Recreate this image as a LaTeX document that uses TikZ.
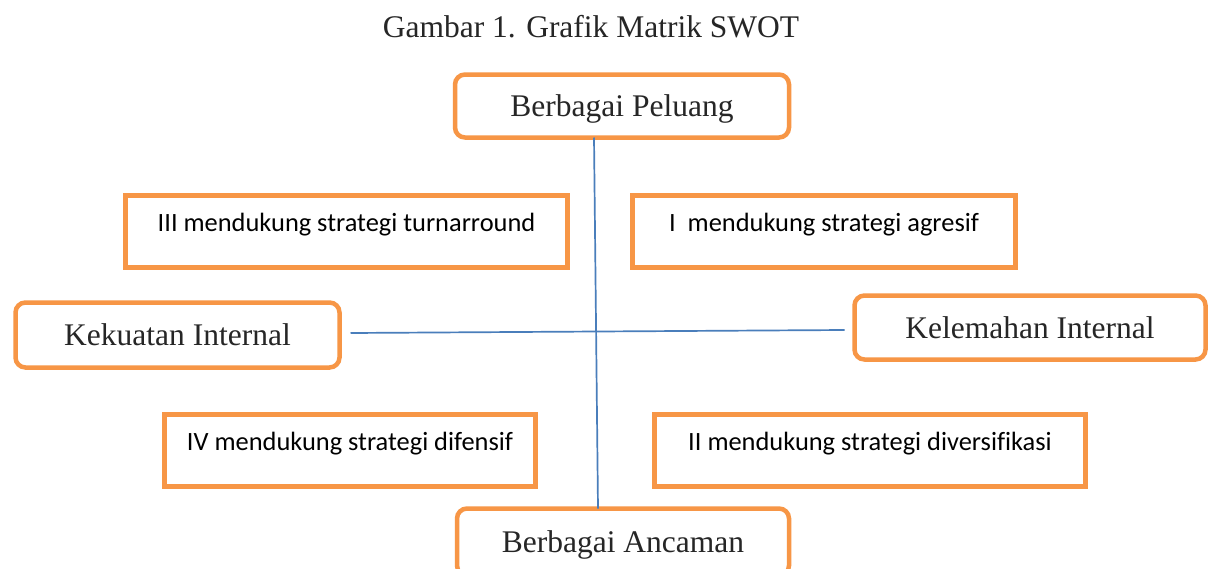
\documentclass[tikz,border=0pt]{standalone}
\usepackage{fontspec}
\setmainfont{Liberation Serif}[Ligatures=NoCommon]
\setsansfont{Carlito}[Ligatures=NoCommon]
\usepackage{tikz}
\usetikzlibrary{calc}
\definecolor{oranye}{HTML}{F79646}
\definecolor{biru}{HTML}{4A7EBB}
\definecolor{teks}{HTML}{262626}

\begin{document}
\begin{tikzpicture}[x=1pt, y=-1pt,
  every node/.style={inner sep=0pt, outer sep=0pt},
  faktor/.style={draw=oranye, line width=4.5pt, rounded corners=10pt, fill=white,
    text=teks, font=\fontsize{31.5}{36}\selectfont, text height=21.5pt, text depth=0pt},
  kuadran/.style={draw=oranye, line width=4.5pt, fill=white, minimum height=72pt,
    font=\sffamily\fontsize{26.4}{30}\selectfont, text height=10pt, text depth=10pt},
  sumbu/.style={draw=biru, line width=1.7pt}]
  \clip (0,0) rectangle (1210,568);
  \fill[white] (0,0) rectangle (1210,568);
  \node[anchor=base, text=teks, font=\fontsize{31.5}{36}\selectfont] (judul) at (591,37) {Gambar 1. Grafik Matrik SWOT};
  \node[faktor, minimum width=334pt, minimum height=63pt] (peluang)   at (622,106)    {Berbagai Peluang};
  \node[faktor, minimum width=324pt, minimum height=65pt] (kekuatan)  at (177.5,335)  {Kekuatan Internal};
  \node[faktor, minimum width=351pt, minimum height=64pt] (kelemahan) at (1030,327.5) {Kelemahan Internal};
  \node[faktor, minimum width=332pt, minimum height=67pt] (ancaman)   at (623,542)    {Berbagai Ancaman};
  \node[kuadran, minimum width=442pt] (tiga)  at (346.5,231.5) {III mendukung strategi turnarround};
  \node[kuadran, minimum width=383pt] (satu)  at (824,231.5)   {I\ \ mendukung strategi agresif};
  \node[kuadran, minimum width=371pt] (empat) at (350,450.5)   {IV mendukung strategi difensif};
  \node[kuadran, minimum width=431pt] (dua)   at (870,450.5)   {II mendukung strategi diversifikasi};
  \draw[sumbu] ($(peluang.south)+(-28,0)$) -- ($(ancaman.north)+(-25,0)$);
  \draw[sumbu] ($(kekuatan.east)+(11,-2)$) -- ($(kelemahan.west)+(-10,2.5)$);
\end{tikzpicture}
\end{document}
